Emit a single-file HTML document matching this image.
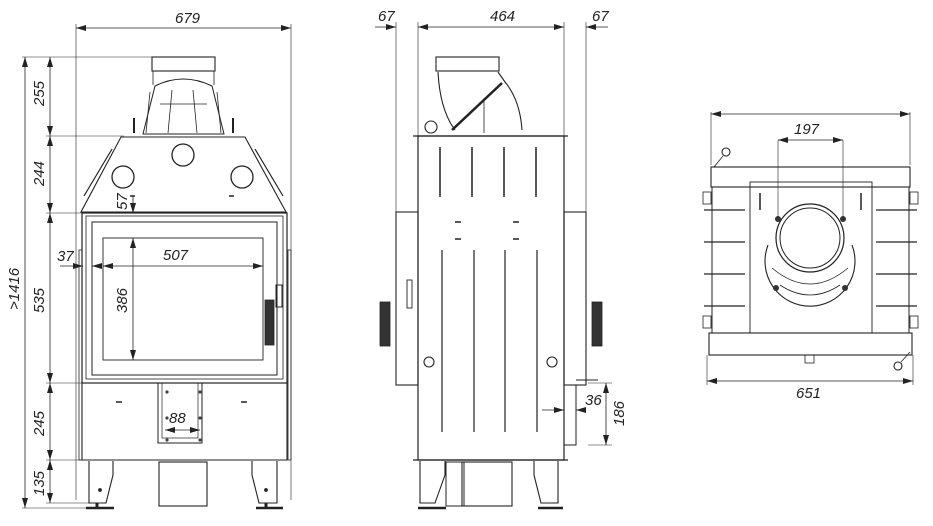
<!DOCTYPE html>
<html><head><meta charset="utf-8"><style>
html,body{margin:0;padding:0;background:#fff}
svg{display:block}
text{font-family:"Liberation Sans",sans-serif;font-style:italic;font-size:15px;fill:#222}
</style></head><body>
<svg width="933" height="526" viewBox="0 0 933 526" xmlns="http://www.w3.org/2000/svg">
<defs>
<marker id="a" viewBox="0 0 10 6" refX="10" refY="3" markerWidth="10" markerHeight="6" orient="auto-start-reverse" markerUnits="userSpaceOnUse"><path d="M0,0L10,3L0,6z" fill="#222"/></marker>
</defs>
<g stroke="#222" fill="none" stroke-width="0.8">
<line x1="76" y1="24" x2="76" y2="500" stroke-width="0.6"/>
<line x1="291" y1="24" x2="291" y2="500" stroke-width="0.6"/>
<line x1="76" y1="28" x2="291" y2="28" marker-start="url(#a)" marker-end="url(#a)"/>
<line x1="22" y1="57" x2="152" y2="57" stroke-width="0.6"/>
<line x1="46" y1="136" x2="124" y2="136" stroke-width="0.6"/>
<line x1="46" y1="213" x2="83" y2="213" stroke-width="0.6"/>
<line x1="46" y1="383" x2="83" y2="383" stroke-width="0.6"/>
<line x1="46" y1="460" x2="82" y2="460" stroke-width="0.6"/>
<line x1="46" y1="503" x2="90" y2="503" stroke-width="0.6"/>
<line x1="22" y1="508" x2="90" y2="508" stroke-width="0.6"/>
<line x1="25" y1="57" x2="25" y2="508" marker-start="url(#a)" marker-end="url(#a)"/>
<line x1="50" y1="57" x2="50" y2="136" marker-start="url(#a)" marker-end="url(#a)"/>
<line x1="50" y1="136" x2="50" y2="213" marker-start="url(#a)" marker-end="url(#a)"/>
<line x1="50" y1="213" x2="50" y2="383" marker-start="url(#a)" marker-end="url(#a)"/>
<line x1="50" y1="383" x2="50" y2="460" marker-start="url(#a)" marker-end="url(#a)"/>
<line x1="50" y1="460" x2="50" y2="503" marker-start="url(#a)" marker-end="url(#a)"/>
<rect x="152" y="57" width="63" height="14" stroke-width="1.1"/>
<line x1="153" y1="71" x2="153" y2="85"/><line x1="214" y1="71" x2="214" y2="85"/>
<path d="M155,86 Q183,72 212,86 L224,134 L143,134 Z" stroke-width="1"/>
<path d="M150,92 L146,133 M217,92 L221,133 M172,90 L168,133 M193,90 L197,133 M160,104 H207"/>
<path d="M134,118 V133 M233,118 V133" stroke-width="2"/>
<path d="M121,137 H245 L286,212 H81 Z" stroke-width="1.1"/>
<path d="M112,149 L84,196 M255,149 L283,196" stroke-width="1.2"/>
<circle cx="183" cy="155" r="11" stroke-width="1.3"/>
<circle cx="123" cy="177" r="11" stroke-width="1.3"/>
<circle cx="242" cy="177" r="11" stroke-width="1.3"/>
<line x1="130" y1="196" x2="135" y2="196" stroke-width="1.5"/>
<line x1="229" y1="196" x2="234" y2="196" stroke-width="1.5"/>
<rect x="82" y="213" width="205" height="170" stroke-width="1.2"/>
<rect x="86" y="216" width="197" height="163" stroke-width="0.8"/>
<rect x="92" y="222" width="185" height="153" stroke-width="1"/>
<rect x="103" y="238" width="160" height="122" stroke-width="0.9"/>
<rect x="265" y="300" width="9" height="45" fill="#333"/>
<rect x="276" y="285" width="6" height="22" stroke-width="1"/>
<path d="M82,383 V460 H287 V383" stroke-width="1.1"/>
<rect x="288" y="250" width="3" height="210" stroke-width="0.8"/>
<rect x="79" y="250" width="3" height="210" stroke-width="0.8"/>
<rect x="158" y="383" width="44" height="60" stroke-width="1"/>
<rect x="162" y="383" width="36" height="55" stroke-width="0.7"/>
<g fill="#444" stroke="none"><circle cx="167" cy="392" r="1.6"/><circle cx="200" cy="392" r="1.6"/><circle cx="167" cy="418" r="1.6"/><circle cx="200" cy="418" r="1.6"/><circle cx="167" cy="440" r="1.6"/><circle cx="200" cy="440" r="1.6"/></g>
<line x1="116" y1="402" x2="122" y2="402" stroke-width="1.5"/>
<line x1="241" y1="402" x2="247" y2="402" stroke-width="1.5"/>
<line x1="165" y1="430" x2="200" y2="430" marker-start="url(#a)" marker-end="url(#a)"/>
<path d="M89,461 V503 H106 L113,475 V461" stroke-width="1.1"/>
<path d="M252,461 V475 L259,503 H277 V461" stroke-width="1.1"/>
<path d="M86,508 H114 M256,508 H283" stroke-width="2.5"/>
<path d="M97,503 V508 M266,503 V508" stroke-width="3"/>
<rect x="159" y="462" width="48" height="44" stroke-width="1.1"/>
<circle cx="100" cy="490" r="1.5" fill="#222"/><circle cx="266" cy="490" r="1.5" fill="#222"/>
<line x1="133" y1="196" x2="133" y2="213" marker-end="url(#a)"/>
<line x1="133" y1="238" x2="133" y2="360" marker-start="url(#a)" marker-end="url(#a)"/>
<line x1="103" y1="266" x2="263" y2="266" marker-start="url(#a)" marker-end="url(#a)"/>
<line x1="60" y1="266" x2="83" y2="266" marker-end="url(#a)"/>
<line x1="92" y1="266" x2="100" y2="266" marker-start="url(#a)"/>

<line x1="396" y1="22" x2="396" y2="212" stroke-width="0.6"/>
<line x1="418" y1="22" x2="418" y2="136" stroke-width="0.6"/>
<line x1="564" y1="22" x2="564" y2="136" stroke-width="0.6"/>
<line x1="586" y1="22" x2="586" y2="212" stroke-width="0.6"/>
<line x1="375" y1="27" x2="396" y2="27" marker-end="url(#a)"/>
<line x1="418" y1="27" x2="564" y2="27" marker-start="url(#a)" marker-end="url(#a)"/>
<line x1="586" y1="27" x2="608" y2="27" marker-start="url(#a)"/>
<rect x="436" y="57" width="63" height="14" stroke-width="1.1"/>
<path d="M438,72 Q440,110 455,130" stroke-width="1.1"/>
<path d="M498,72 L505,82 Q520,100 522,130" stroke-width="1.1"/>
<line x1="452" y1="130" x2="502" y2="83" stroke-width="2.5"/>
<line x1="484" y1="100" x2="484" y2="133"/>
<circle cx="431" cy="127" r="6" stroke-width="1.1"/>
<rect x="418" y="136" width="146" height="324" stroke-width="1.2"/>
<line x1="413" y1="136" x2="568" y2="136" stroke-width="1.2"/>
<rect x="396" y="212" width="22" height="173" stroke-width="1.1"/>
<rect x="564" y="212" width="22" height="173" stroke-width="1.1"/>
<g stroke-width="1.5">
<path d="M440,147V197 M472,147V197 M504,147V197 M536,147V197"/>
<path d="M442,250V432 M474,250V432 M505,250V432 M537,250V432" stroke-width="1.2"/>
</g>
<path d="M455,222H461 M455,239H461 M513,222H519 M513,239H519" stroke-width="1.5"/>
<circle cx="429" cy="362" r="5" stroke-width="1.1"/>
<circle cx="552" cy="362" r="5" stroke-width="1.1"/>
<rect x="407" y="280" width="5" height="28" stroke-width="0.9"/>
<rect x="380" y="302" width="10" height="44" fill="#333"/>
<rect x="592" y="302" width="10" height="44" fill="#333"/>
<rect x="564" y="385" width="12" height="60" stroke-width="1"/>
<line x1="576" y1="380" x2="598" y2="380" stroke-width="1"/>
<line x1="588" y1="383" x2="612" y2="383" stroke-width="0.6"/>
<line x1="588" y1="445" x2="612" y2="445" stroke-width="0.6"/>
<line x1="606" y1="383" x2="606" y2="445" marker-start="url(#a)" marker-end="url(#a)"/>
<line x1="542" y1="410" x2="564" y2="410" marker-end="url(#a)"/>
<line x1="576" y1="410" x2="584" y2="410" marker-start="url(#a)"/>
<line x1="413" y1="460" x2="568" y2="460" stroke-width="1.2"/>
<path d="M420,461 V503 H435 L445,475 V461" stroke-width="1.1"/>
<path d="M534,461 V475 L541,503 H558 V461" stroke-width="1.1"/>
<path d="M418,508 H446 M538,508 H563" stroke-width="2.5"/>
<rect x="446" y="462" width="18" height="44" stroke-width="1"/>
<rect x="462" y="462" width="50" height="44" stroke-width="1.1"/>

<line x1="711" y1="112" x2="711" y2="165" stroke-width="0.6"/>
<line x1="910" y1="112" x2="910" y2="165" stroke-width="0.6"/>
<line x1="711" y1="114" x2="910" y2="114" marker-start="url(#a)" marker-end="url(#a)"/>
<line x1="707" y1="355" x2="707" y2="385" stroke-width="0.6"/>
<line x1="913" y1="355" x2="913" y2="385" stroke-width="0.6"/>
<line x1="707" y1="381" x2="913" y2="381" marker-start="url(#a)" marker-end="url(#a)"/>
<rect x="711" y="167" width="199" height="20" stroke-width="1.1"/>
<rect x="712" y="187" width="197" height="146" stroke-width="1"/>
<rect x="709" y="333" width="203" height="22" stroke-width="1.1"/>
<rect x="750" y="182" width="122" height="151" stroke-width="0.9"/>
<g stroke-width="1.3">
<path d="M704,210H745 M704,242H745 M704,274H745 M704,306H745 M876,210H917 M876,242H917 M876,274H917 M876,306H917"/>
</g>
<rect x="703" y="192" width="8" height="12"/><rect x="703" y="316" width="8" height="12"/>
<rect x="910" y="192" width="8" height="12"/><rect x="910" y="316" width="8" height="12"/>
<circle cx="810" cy="238" r="34" stroke-width="1.2"/>
<circle cx="810" cy="238" r="30" stroke-width="1"/>
<path d="M768,245 A45,45 0 1,0 852,245" stroke-width="1.1"/>
<path d="M772,268 Q810,300 848,268 M780,285 Q810,305 840,285" />
<g fill="#333" stroke="none"><circle cx="778" cy="219" r="3"/><circle cx="843" cy="219" r="3"/><circle cx="776" cy="288" r="3"/><circle cx="845" cy="288" r="3"/></g>
<line x1="778" y1="140" x2="778" y2="219" stroke-width="0.6"/>
<line x1="843" y1="140" x2="843" y2="219" stroke-width="0.6"/>
<line x1="778" y1="140" x2="843" y2="140" marker-start="url(#a)" marker-end="url(#a)"/>
<circle cx="726" cy="152" r="4" stroke-width="1.1"/><line x1="723" y1="156" x2="714" y2="167"/>
<circle cx="898" cy="366" r="4" stroke-width="1.1"/><line x1="901" y1="362" x2="910" y2="352"/>
<rect x="805" y="355" width="9" height="8"/>
<path d="M760,193V210 M861,193V210" stroke-width="1.5"/>
</g>
<g>
<text x="175" y="23">679</text>
<text x="378" y="21">67</text>
<text x="490" y="21">464</text>
<text x="592" y="21">67</text>
<text x="163" y="260">507</text>
<text x="57" y="261">37</text>
<text x="169" y="423">88</text>
<text x="585" y="405">36</text>
<text x="794" y="134">197</text>
<text x="796" y="398">651</text>
<text transform="translate(44,106) rotate(-90)">255</text>
<text transform="translate(44,186) rotate(-90)">244</text>
<text transform="translate(44,313) rotate(-90)">535</text>
<text transform="translate(44,436) rotate(-90)">245</text>
<text transform="translate(44,496) rotate(-90)">135</text>
<text transform="translate(19,310) rotate(-90)">&gt;1416</text>
<text transform="translate(127,210) rotate(-90)">57</text>
<text transform="translate(127,313) rotate(-90)">386</text>
<text transform="translate(624,426) rotate(-90)">186</text>
</g>
</svg>
</body></html>
